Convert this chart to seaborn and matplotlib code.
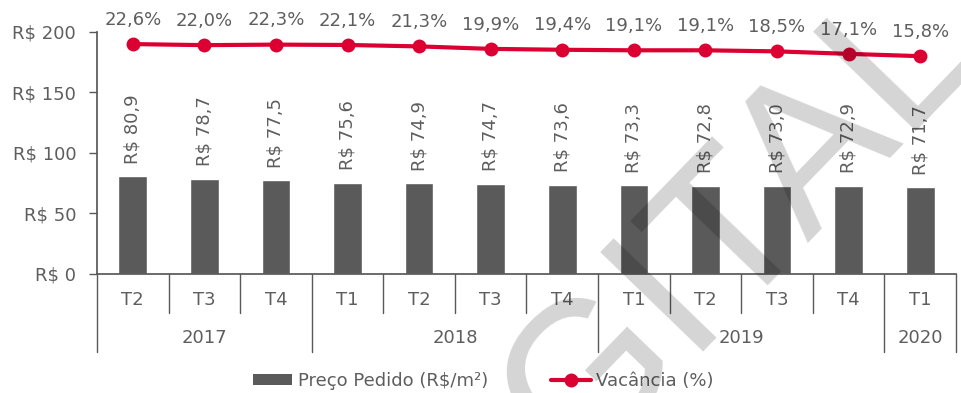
import numpy as np
import pandas as pd
import matplotlib
matplotlib.use("Agg")
import matplotlib.pyplot as plt
from matplotlib.lines import Line2D
from matplotlib.patches import Patch
import seaborn as sns

# Data
anos = ["2017", "2017", "2017", "2018", "2018", "2018", "2018",
        "2019", "2019", "2019", "2019", "2020"]
trimestres = ["T2", "T3", "T4", "T1", "T2", "T3", "T4",
              "T1", "T2", "T3", "T4", "T1"]
preco_pedido = [80.9, 78.7, 77.5, 75.6, 74.9, 74.7, 73.6,
                73.3, 72.8, 73.0, 72.9, 71.7]
vacancia = [22.6, 22.0, 22.3, 22.1, 21.3, 19.9, 19.4,
            19.1, 19.1, 18.5, 17.1, 15.8]
y_ticks = [0, 50, 100, 150, 200]

sns.set_theme(style="white")
plt.rcParams["font.family"] = ["DejaVu Sans"]

TXT = "#5e5e5e"
AXC = "#595959"
BAR = "#5a5a5a"
RED = "#DC0032"
FS = 13

df = pd.DataFrame({
    "periodo": [f"{a} {t}" for a, t in zip(anos, trimestres)],
    "preco": preco_pedido,
    "vacancia": vacancia,
    "pos": np.arange(len(anos)),
})

fig = plt.figure(figsize=(9.61, 3.93), dpi=100)
ax = fig.add_axes([0.1009, 0.3028, 0.8939, 0.6158])

sns.barplot(data=df, x="periodo", y="preco", color=BAR, width=0.4,
            saturation=1, ax=ax, zorder=2)
ax.set_xlim(-0.5, len(anos) - 0.5)
ax.set_ylim(0, 200)
ax.set_yticks(y_ticks)
ax.set_yticklabels([f"R$ {v}" for v in y_ticks], fontsize=FS, color=TXT)
ax.set_xticks([])
ax.set_xlabel("")
ax.set_ylabel("")
for s in ["top", "right"]:
    ax.spines[s].set_visible(False)
ax.spines["left"].set_color(AXC)
ax.spines["bottom"].set_color(AXC)
ax.tick_params(axis="y", which="both", left=True, length=6, width=1,
               color=AXC, pad=9)

# Price labels above the bars
for i, v in enumerate(preco_pedido):
    ax.annotate(f"R$ {v:.1f}".replace(".", ","), (i, v),
                xytext=(0, 9), textcoords="offset points",
                rotation=90, ha="center", va="bottom",
                fontsize=FS, color=TXT)

# Vacancy line on a hidden secondary axis
ax2 = ax.twinx()
sns.lineplot(data=df, x="pos", y="vacancia", color=RED, linewidth=3,
             marker="o", markersize=10, markeredgewidth=0, ax=ax2,
             zorder=3)
ax2.set_ylim(-106.7, 29.4)
ax2.set_xlim(-0.5, len(anos) - 0.5)
ax2.axis("off")
for i, v in enumerate(vacancia):
    ax2.annotate(f"{v:.1f}%".replace(".", ","), (i, v),
                 xytext=(0, 17.5), textcoords="offset points",
                 ha="center", va="center", fontsize=FS, color=TXT,
                 annotation_clip=False)

# Two-level category axis: quarters and years
tr = ax.get_xaxis_transform()
n = len(anos)
y_q_line, y_y_line = -0.161, -0.322
y_q_txt, y_y_txt = -0.107, -0.264
year_edges = [-0.5] + [i - 0.5 for i in range(1, n) if anos[i] != anos[i - 1]] + [n - 0.5]
for i in range(1, n):
    x = i - 0.5
    if x not in year_edges:
        ax.add_line(Line2D([x, x], [0, y_q_line], transform=tr, color=AXC,
                           lw=1, clip_on=False))
for x in year_edges:
    ax.add_line(Line2D([x, x], [0, y_y_line], transform=tr, color=AXC,
                       lw=1, clip_on=False))
for i, t in enumerate(trimestres):
    ax.text(i, y_q_txt, t, transform=tr, ha="center", va="center",
            fontsize=FS, color=TXT)
for a, b in zip(year_edges[:-1], year_edges[1:]):
    ax.text((a + b) / 2, y_y_txt, anos[int(a + 0.5)], transform=tr,
            ha="center", va="center", fontsize=FS, color=TXT)

# Legend
handles = [
    Patch(facecolor=BAR, edgecolor="none", label="Preço Pedido (R$/m²)"),
    Line2D([], [], color=RED, lw=3, marker="o", markersize=10,
           markeredgewidth=0, label="Vacância (%)"),
]
fig.legend(handles=handles, loc="center", bbox_to_anchor=(0.503, 0.031),
           ncol=2, frameon=False, fontsize=FS, labelcolor=TXT,
           handlelength=2.2, handleheight=0.5, handletextpad=0.3,
           columnspacing=3.5)

# Watermark
fig.text(1.02, 0.88, "DIGITAL", fontsize=150, family="Liberation Sans",
         color="black", alpha=0.17, rotation=46, rotation_mode="anchor",
         ha="right", va="baseline", zorder=10)

fig.savefig("out.png", dpi=100)
